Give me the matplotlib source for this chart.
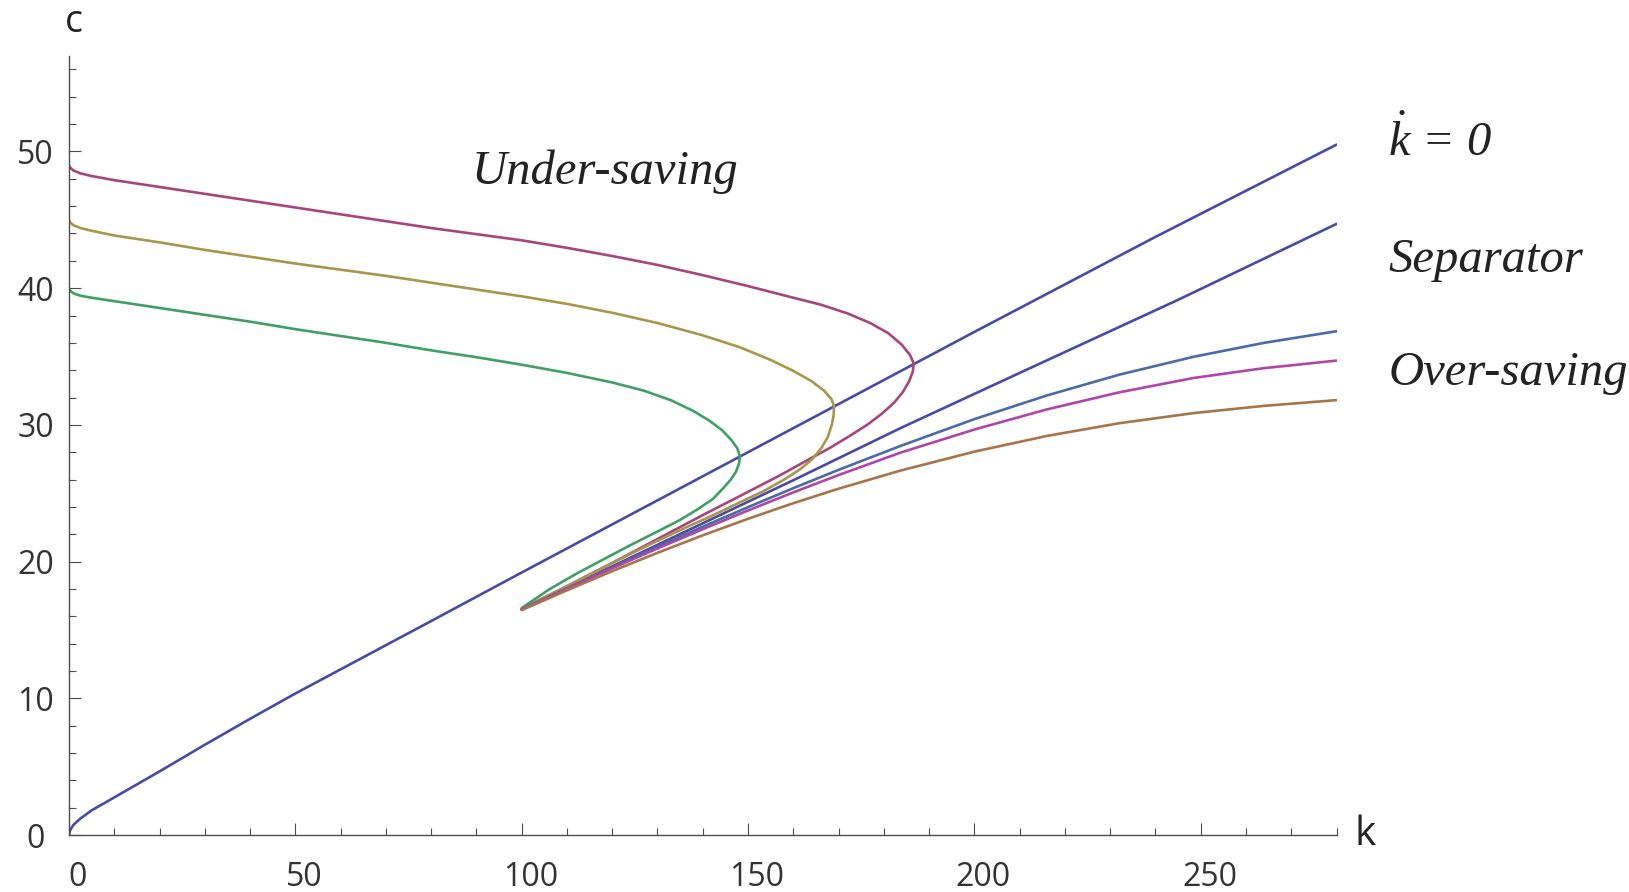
import matplotlib
matplotlib.use("Agg")
import matplotlib.pyplot as plt
import matplotlib.transforms as mtransforms
from matplotlib.ticker import MultipleLocator

# k-dot = 0 locus
kdot_k = [0, 0.25, 1, 2.5, 5, 10, 15, 20, 30, 40, 50, 65, 80, 100, 125, 150, 175, 200, 240, 280]
kdot_c = [0, 0.35, 0.75, 1.2, 1.8, 2.75, 3.7, 4.65, 6.6, 8.5, 10.35, 13.0, 15.65, 19.2, 23.6,
          28.0, 32.4, 36.8, 43.75, 50.5]

# saddle path
sep_k = [100, 120, 140, 160, 183.6, 210, 244.7, 280]
sep_c = [16.5, 19.65, 22.8, 25.95, 29.75, 33.8, 39.1, 44.7]

# paths starting with too much consumption
under1_k = [0, 0.3, 1, 2.5, 5, 10, 20, 30, 40, 50, 60, 70, 80, 90, 100, 110, 120, 130, 140, 150,
            160, 166, 172, 177, 181, 184, 185.8, 186.6, 186.4, 185.6, 184.2, 182.2, 179.5, 176.3,
            172.5, 168, 163, 157, 150, 140, 130, 120, 110, 100]
under1_c = [49.0, 48.8, 48.6, 48.4, 48.2, 47.9, 47.4, 46.9, 46.4, 45.9, 45.4, 44.9, 44.4, 43.95,
            43.5, 42.95, 42.35, 41.7, 40.95, 40.15, 39.3, 38.8, 38.15, 37.45, 36.7, 35.85, 35.1,
            34.5, 33.9, 33.2, 32.4, 31.6, 30.8, 30.0, 29.2, 28.3, 27.4, 26.3, 25.1, 23.4, 21.65,
            19.9, 18.2, 16.55]
under2_k = [0, 0.3, 1, 2.5, 5, 10, 20, 30, 40, 50, 60, 70, 80, 90, 100, 110, 120, 130, 140, 148,
            155, 160, 164, 166.8, 168.4, 169.0, 168.9, 168.5, 167.6, 166.2, 164.2, 161.5, 158,
            153.4, 148, 142, 135, 128, 120, 110, 100]
under2_c = [45.0, 44.8, 44.6, 44.4, 44.2, 43.85, 43.35, 42.8, 42.3, 41.8, 41.35, 40.9, 40.4, 39.9,
            39.4, 38.85, 38.2, 37.45, 36.55, 35.7, 34.75, 33.95, 33.2, 32.5, 31.9, 31.35, 30.7,
            30.0, 29.1, 28.3, 27.5, 26.75, 26.0, 25.15, 24.3, 23.35, 22.3, 21.2, 19.9, 18.2, 16.55]
under3_k = [0, 0.3, 1, 2.5, 5, 10, 20, 30, 40, 50, 60, 70, 80, 90, 100, 110, 120, 127, 133, 138,
            141.5, 144.3, 146.3, 147.6, 148.2, 148.0, 147.3, 146.2, 144.6, 142.3, 139, 135, 130,
            124, 118, 112, 106, 100]
under3_c = [40.0, 39.8, 39.62, 39.45, 39.3, 39.05, 38.55, 38.05, 37.55, 37.0, 36.5, 36.0, 35.45,
            34.95, 34.4, 33.8, 33.1, 32.5, 31.8, 31.0, 30.3, 29.6, 28.9, 28.3, 27.7, 27.15, 26.55,
            26.0, 25.4, 24.6, 23.85, 23.05, 22.2, 21.2, 20.15, 19.1, 17.95, 16.6]

# paths starting with too little consumption
over_k = [100, 110, 120, 130, 140, 150, 160, 170, 183.6, 200, 216, 232, 248.4, 264, 280]
over1_c = [16.5, 18.05, 19.58, 21.08, 22.55, 23.98, 25.37, 26.71, 28.45, 30.42, 32.15, 33.67,
           34.98, 36.0, 36.85]
over2_c = [16.5, 18.02, 19.51, 20.96, 22.37, 23.74, 25.06, 26.33, 27.96, 29.66, 31.13, 32.38,
           33.43, 34.15, 34.7]
over3_c = [16.45, 17.9, 19.3, 20.64, 21.92, 23.13, 24.27, 25.33, 26.65, 28.04, 29.19, 30.12,
           30.86, 31.39, 31.81]

plt.rcParams['mathtext.fontset'] = 'custom'
plt.rcParams['mathtext.it'] = 'Liberation Serif:italic'
plt.rcParams['mathtext.rm'] = 'Liberation Serif'

fig = plt.figure(figsize=(16.29, 8.92), dpi=100)
ax = fig.add_axes([0.04236, 0.0639, 0.7781, 0.8736])

lw = 1.9
line_kw = dict(lw=lw, solid_joinstyle="round", solid_capstyle="round")
ax.plot(kdot_k, kdot_c, color="#4a4aa6", **line_kw)
ax.plot(sep_k, sep_c, color="#4a4aa6", **line_kw)
ax.plot(under1_k, under1_c, color="#a8457c", **line_kw)
ax.plot(under2_k, under2_c, color="#a8974b", **line_kw)
ax.plot(under3_k, under3_c, color="#3fa066", **line_kw)
ax.plot(over_k, over1_c, color="#4a6aa8", **line_kw)
ax.plot(over_k, over2_c, color="#b045a8", **line_kw)
ax.plot(over_k, over3_c, color="#a8744a", **line_kw)

ax.set_xlim(0, 280)
ax.set_ylim(0, 57)
for s in ["top", "right"]:
    ax.spines[s].set_visible(False)
for s in ["left", "bottom"]:
    ax.spines[s].set_color("#4d4d4d")
    ax.spines[s].set_linewidth(1.0)

ax.xaxis.set_major_locator(MultipleLocator(50))
ax.xaxis.set_minor_locator(MultipleLocator(10))
ax.yaxis.set_major_locator(MultipleLocator(10))
ax.yaxis.set_minor_locator(MultipleLocator(2))
ax.tick_params(which="both", direction="in", color="#4d4d4d", width=0.8, labelcolor="#333333")
ax.tick_params(which="major", length=8.5, labelsize=23)
ax.tick_params(which="minor", length=5.3)
ax.tick_params(axis="x", which="major", pad=19)
ax.tick_params(axis="y", which="major", pad=24)
for lab in ax.get_xticklabels() + ax.get_yticklabels():
    lab.set_fontfamily("Open Sans")
for lab in ax.get_yticklabels():
    lab.set_horizontalalignment("center")
shift = mtransforms.ScaledTranslation(6.5 / 72, 0, fig.dpi_scale_trans)
for lab in ax.get_xticklabels():
    lab.set_transform(lab.get_transform() + shift)

ax.text(-1.0, 59.5, "c", fontsize=27, family="Open Sans", color="#222222",
        ha="left", va="center", clip_on=False)
ax.text(284, 0.0, "k", fontsize=29, family="Open Sans", color="#222222",
        ha="left", va="center", clip_on=False)

serif = dict(family="Liberation Serif", style="italic", fontsize=35, color="#222222",
             va="baseline", ha="left", clip_on=False)
ax.text(89.0, 47.65, "Under-saving", **serif)
ax.text(291.4, 49.7, r"$\dot{k}$ = 0", **serif)
ax.text(291.4, 41.2, "Separator", **serif)
ax.text(291.6, 32.9, "Over-saving", **serif)

fig.savefig("out.png", dpi=100)
